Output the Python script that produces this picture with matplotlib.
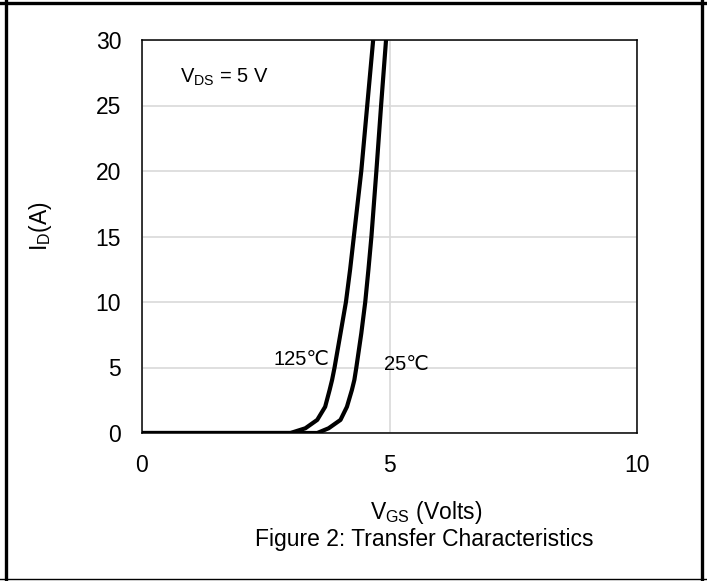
import matplotlib
matplotlib.use("Agg")
import matplotlib.pyplot as plt
from matplotlib.lines import Line2D

plt.rcParams['font.family'] = ['Liberation Sans', 'DejaVu Sans']
plt.rcParams['mathtext.fontset'] = 'custom'
plt.rcParams['mathtext.rm'] = 'Liberation Sans'
plt.rcParams['mathtext.it'] = 'Liberation Sans'

# drain current vs gate voltage
id_amps = [0, 0, 0.36, 1, 2, 3.28, 4.05, 5, 7.6, 10, 12.5, 15, 17.5, 20, 25, 30]
vgs_125 = [0, 3.0, 3.30, 3.54, 3.70, 3.79, 3.84, 3.89, 4.01, 4.12, 4.205, 4.28, 4.355, 4.43, 4.55, 4.67]
vgs_25 = [0, 3.54, 3.77, 4.01, 4.14, 4.24, 4.29, 4.33, 4.43, 4.51, 4.575, 4.635, 4.685, 4.735, 4.83, 4.93]

x_ticks = [0, 5, 10]
y_ticks = [0, 5, 10, 15, 20, 25, 30]

fig = plt.figure(figsize=(7.07, 5.81), dpi=100)
ax = fig.add_axes([142 / 707, 1 - 433 / 581, 495 / 707, 393 / 581])

ax.plot(vgs_125, id_amps, color='black', lw=3.0, solid_capstyle='butt', solid_joinstyle='round')
ax.plot(vgs_25, id_amps, color='black', lw=3.0, solid_capstyle='butt', solid_joinstyle='round')

ax.set_xlim(0, 10)
ax.set_ylim(0, 30)
ax.set_xticks(x_ticks)
ax.set_yticks(y_ticks)
ax.tick_params(length=0, labelsize=16.5)
ax.tick_params(axis='x', pad=15)
ax.tick_params(axis='y', pad=15)
ax.grid(True, color='#d9d9d9', lw=1.2)
ax.set_axisbelow(True)
for s in ax.spines.values():
    s.set_linewidth(1.1)
    s.set_color('black')

ax.text(38 / 495, 1 - 37 / 393, r'$\mathregular{V_{DS}}$ = 5 V', transform=ax.transAxes,
        fontsize=14.5, va='center', ha='left')
ax.text(2.65, 5.6, '125℃', fontsize=14.5, va='center', ha='left')
ax.text(4.88, 5.2, '25℃', fontsize=14.5, va='center', ha='left')

fig.text(40 / 707, 1 - 226 / 581, r'$\mathregular{I_D}$(A)', rotation=90,
         fontsize=16.5, ha='center', va='center')
fig.text(426 / 707, 1 - 519 / 581, r'$\mathregular{V_{GS}}$ (Volts)',
         fontsize=16.5, ha='center', va='baseline')
fig.text(424 / 707, 1 - 546 / 581, 'Figure 2: Transfer Characteristics',
         fontsize=16.5, ha='center', va='baseline')

# frame around the whole figure
W, H = 707, 581
fig.add_artist(Line2D([6 / W, 6 / W], [0, 1], color='black', lw=2.4, transform=fig.transFigure))
fig.add_artist(Line2D([702 / W, 702 / W], [0, 1], color='black', lw=2.4, transform=fig.transFigure))
fig.add_artist(Line2D([0, 1], [1 - 2.5 / H, 1 - 2.5 / H], color='black', lw=2.4, transform=fig.transFigure))
fig.add_artist(Line2D([0, 1], [1 - 579 / H, 1 - 579 / H], color='black', lw=1.0, transform=fig.transFigure))

fig.savefig('out.png', dpi=100)
